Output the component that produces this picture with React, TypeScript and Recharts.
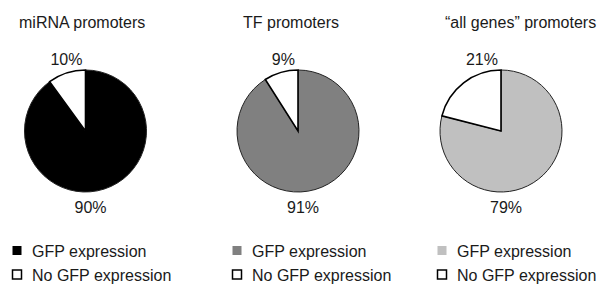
import React from "react";
import { PieChart, Pie, Cell } from "recharts";

// ---- data ----
const groups = ["miRNA promoters", "TF promoters", "\u201call genes\u201d promoters"];
const categories = ["GFP expression", "No GFP expression"];
const gfpExpression = [90, 91, 79];
const noGfpExpression = [10, 9, 21];
const gfpColors = ["#000000", "#808080", "#c0c0c0"];
const noGfpColor = "#ffffff";

// ---- layout ----
const W = 600;
const H = 287;
const centers = [85.5, 298, 501];
const CY = 131;
const R = 61;
const titleX = [19, 243, 445];
const titleY = 28;
const legendX = [12, 232, 437];
const legendRowY = [250.5, 274.5];
const FONT = "'Liberation Sans', Arial, Helvetica, sans-serif";

const renderLabel = (props: any) => {
  const { cx, cy, outerRadius, index, value } = props;
  if (index === 0) {
    return (
      <text x={cx + 5} y={cy + outerRadius + 21} textAnchor="middle" fontSize={16} fontFamily={FONT} fill="#1a1a1a">
        {value}%
      </text>
    );
  }
  return (
    <text x={cx - 3} y={cy - outerRadius - 5} textAnchor="end" fontSize={16} fontFamily={FONT} fill="#1a1a1a">
      {value}%
    </text>
  );
};

export default function App() {
  return (
    <div style={{ position: "absolute", left: 0, top: 0, width: W, height: H, background: "#fff" }}>
      <PieChart width={W} height={H} margin={{ top: 0, right: 0, bottom: 0, left: 0 }}>
        {groups.map((g, i) => {
          const data = [
            { name: categories[0], value: gfpExpression[i] },
            { name: categories[1], value: noGfpExpression[i] },
          ];
          return (
            <Pie
              key={g}
              data={data}
              dataKey="value"
              nameKey="name"
              cx={centers[i]}
              cy={CY}
              outerRadius={R}
              innerRadius={0}
              startAngle={90}
              endAngle={-270}
              paddingAngle={0}
              label={renderLabel}
              labelLine={false}
              isAnimationActive={false}
            >
              <Cell fill={gfpColors[i]} stroke="#222" strokeWidth={1} />
              <Cell fill={noGfpColor} stroke="#000" strokeWidth={1.6} />
            </Pie>
          );
        })}
      </PieChart>
      <svg width={W} height={H} style={{ position: "absolute", left: 0, top: 0, pointerEvents: "none" }}>
        {groups.map((g, i) => (
          <text key={g} x={titleX[i]} y={titleY} fontSize={16} fontFamily={FONT} fill="#1a1a1a">
            {g}
          </text>
        ))}
        {groups.map((g, i) =>
          categories.map((c, j) => (
            <g key={g + c}>
              <rect
                x={legendX[i] + 0.5}
                y={legendRowY[j] - 4.5}
                width={9}
                height={9}
                fill={j === 0 ? gfpColors[i] : noGfpColor}
                stroke={j === 0 ? gfpColors[i] : "#000"}
                strokeWidth={j === 0 ? 0 : 1.5}
              />
              <text x={legendX[i] + 20} y={legendRowY[j] + 6} fontSize={16} fontFamily={FONT} fill="#1a1a1a">
                {c}
              </text>
            </g>
          ))
        )}
      </svg>
    </div>
  );
}
